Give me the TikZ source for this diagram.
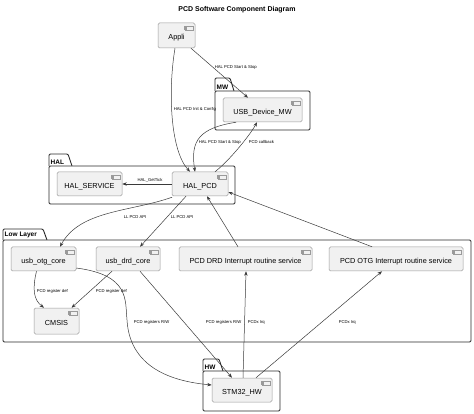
\documentclass[tikz,border=0pt]{standalone}
\usepackage{fontspec}
\setmainfont{Liberation Sans}
\usetikzlibrary{arrows.meta}

\definecolor{compfill}{HTML}{F1F1F1}
\definecolor{compline}{HTML}{9A9A9A}
\definecolor{pkgline}{HTML}{2A2A2A}
\definecolor{edgeline}{HTML}{3A3A3A}

\begin{document}
\begin{tikzpicture}[x=1pt, y=-1pt, >={Stealth[length=4.5pt, width=3.4pt]},
  comp/.style={draw=compline, fill=compfill, line width=0.5pt, rounded corners=1.5pt,
    minimum height=24pt, inner sep=0pt, text height=9pt, text depth=0pt,
    font=\fontsize{7.3}{8}\selectfont},
  pkg/.style={draw=pkgline, fill=white, line width=0.9pt, rounded corners=1.2pt},
  pkgname/.style={font=\bfseries\fontsize{6.5}{7}\selectfont, anchor=south west, inner sep=1pt},
  flow/.style={->, draw=edgeline, line width=0.5pt},
  lbl/.style={font=\fontsize{4.2}{5}\selectfont, anchor=west, inner sep=0.5pt},
  icon/.style={draw=compline, fill=compfill, line width=0.35pt}]

  \useasboundingbox (0,0) rectangle (474,414);

  % Title
  \node[font=\bfseries\fontsize{7}{8}\selectfont] (title) at (237,10) {PCD Software Component Diagram};

  % Packages (tab first, then body)
  \draw[pkg] (215,91) -- (215,78) -- (230,78) -- (234,91);
  \draw[pkg] (215,91) rectangle (310,130);
  \node[pkgname] (mwname) at (215.5,90.5) {MW};

  \draw[pkg] (49,166) -- (49,154) -- (68,154) -- (72,166);
  \draw[pkg] (49,166) rectangle (235,204);
  \node[pkgname] (halname) at (49.5,165.5) {HAL};

  \draw[pkg] (3,240) -- (3,229) -- (43,229) -- (47,240);
  \draw[pkg] (3,240) rectangle (471,342);
  \node[pkgname] (llname) at (3.5,239.5) {Low Layer};

  \draw[pkg] (203,371) -- (203,359) -- (219,359) -- (223,371);
  \draw[pkg] (203,371) rectangle (280,411);
  \node[pkgname] (hwname) at (203.5,370.5) {HW};

  % Components
  \node[comp, minimum width=37pt, minimum height=25pt] (appli) at (176.5,35.5) {Appli};
  \node[comp, minimum width=79pt] (usbmw) at (262.5,110) {USB\_Device\_MW};
  \node[comp, minimum width=65pt] (halsvc) at (89.5,184) {HAL\_SERVICE};
  \node[comp, minimum width=56pt] (halpcd) at (200,184) {HAL\_PCD};
  \node[comp, minimum width=65pt] (otgcore) at (43.5,259) {usb\_otg\_core};
  \node[comp, minimum width=64pt] (drdcore) at (128,259) {usb\_drd\_core};
  \node[comp, minimum width=133pt] (drdirq) at (245.5,259) {PCD DRD Interrupt routine service};
  \node[comp, minimum width=134pt] (otgirq) at (396,259) {PCD OTG Interrupt routine service};
  \node[comp, minimum width=45pt, minimum height=26pt] (cmsis) at (56.5,321) {CMSIS};
  \node[comp, minimum width=60pt] (stm32) at (242,390) {STM32\_HW};

  % component icons
  \foreach \c in {appli,usbmw,halsvc,halpcd,otgcore,drdcore,drdirq,otgirq,cmsis,stm32} {
    \draw[icon] ([xshift=-10.5pt,yshift=-3pt]\c.north east) rectangle ++(8.5pt,-4.5pt);
    \draw[icon] ([xshift=-11.5pt,yshift=-3.8pt]\c.north east) rectangle ++(2pt,-1pt);
    \draw[icon] ([xshift=-11.5pt,yshift=-5.8pt]\c.north east) rectangle ++(2pt,-1pt);
  }

  % Appli -> middleware / HAL
  \draw[flow] ([xshift=14.5pt]appli.south) -- ([xshift=-14.5pt]usbmw.north)
    node[lbl] at (214,67) {HAL PCD Start \& Stop};
  \draw[flow] ([xshift=-1.5pt]appli.south) .. controls (168,90) and (170,150) .. ([xshift=-10pt]halpcd.north)
    node[lbl] at (173,109) {HAL PCD Init \& Config};

  % Middleware <-> HAL_PCD
  \draw[flow] ([xshift=-26.5pt]usbmw.south) .. controls (200,128) and (190,140) .. ([xshift=-5pt]halpcd.north)
    node[lbl] at (198,142) {HAL PCD Start \& Stop};
  \draw[flow] ([xshift=15pt]halpcd.north) .. controls (230,160) and (250,135) .. ([xshift=-5.5pt]usbmw.south)
    node[lbl] at (248,142) {PCD callback};

  % HAL internal
  \draw[flow] (halpcd.west) -- (halsvc.east)
    node[lbl, anchor=center] at (150,180) {HAL\_GetTick};

  % HAL_PCD -> low layer
  \draw[flow] ([xshift=-28pt,yshift=-1pt]halpcd.south) .. controls (130,212) and (80,210) .. ([xshift=16.5pt]otgcore.north)
    node[lbl] at (123,217) {LL PCD API};
  \draw[flow] ([xshift=-14pt]halpcd.south) -- ([xshift=12pt]drdcore.north)
    node[lbl] at (170,217) {LL PCD API};

  % interrupt services -> HAL_PCD
  \draw[flow] ([xshift=-7.5pt]drdirq.north) -- ([xshift=7pt]halpcd.south);
  \draw[flow] ([xshift=-24pt]otgirq.north) -- ([yshift=-8pt]halpcd.east);

  % low layer -> CMSIS
  \draw[flow] ([xshift=-7pt]otgcore.south) .. controls (32,290) and (34,300) .. ([xshift=-12.5pt]cmsis.north)
    node[lbl] at (36,291) {PCD register def};
  \draw[flow] ([xshift=-16pt]drdcore.south) -- ([xshift=15pt]cmsis.north)
    node[lbl] at (95,291) {PCD register def};

  % low layer -> hardware
  \draw[flow] ([yshift=-9pt]otgcore.east) .. controls (130,275) and (125,300) .. (127,320)
    .. controls (130,372) and (180,382) .. ([yshift=5pt]stm32.west)
    node[lbl] at (133,322) {PCD registers R/W};
  \draw[flow] ([xshift=12pt]drdcore.south) -- ([xshift=-10pt]stm32.north)
    node[lbl] at (205,322) {PCD registers R/W};

  % hardware -> interrupt services
  \draw[flow] ([xshift=1pt]stm32.north) -- ([xshift=0.5pt]drdirq.south)
    node[lbl] at (247,322) {PCDx Irq};
  \draw[flow] ([xshift=14pt]stm32.north) -- ([xshift=-14pt]otgirq.south)
    node[lbl] at (338,322) {PCDx Irq};
\end{tikzpicture}
\end{document}
